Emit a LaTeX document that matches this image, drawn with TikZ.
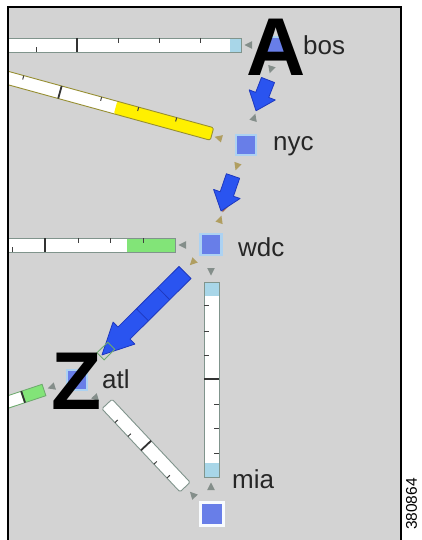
\documentclass[tikz,border=0pt]{standalone}
\usepackage{fontspec}
\setmainfont{Liberation Sans}
\usetikzlibrary{calc}
\definecolor{bg}{RGB}{211,211,211}
\definecolor{nodeblue}{RGB}{104,126,232}
\definecolor{glow}{RGB}{172,210,242}
\definecolor{barline}{RGB}{128,148,140}
\definecolor{lightblue}{RGB}{168,214,232}
\definecolor{ylw}{RGB}{255,240,0}
\definecolor{ylwline}{RGB}{150,142,50}
\definecolor{grn}{RGB}{130,228,120}
\definecolor{grnline}{RGB}{110,170,110}
\definecolor{arrblue}{RGB}{42,84,240}
\definecolor{arrline}{RGB}{30,56,190}
\definecolor{mkgray}{RGB}{132,142,138}
\definecolor{mkolive}{RGB}{176,158,96}
\definecolor{mkbrown}{RGB}{165,105,80}
\newcommand\blockarr[7]{%
  \begin{scope}[shift={(#1,#2)},rotate=#3]
    \filldraw[fill=arrblue,draw=arrline,line width=0.8pt,line join=round]
      (0,-#6) -- ({#4-#5},-#6) -- ({#4-#5},-#7) -- (#4,0) -- ({#4-#5},#7) -- ({#4-#5},#6) -- (0,#6) -- cycle;
  \end{scope}}
\newcommand\mk[4]{\fill[#4,shift={(#1,#2)},rotate=#3] (4.5,0) -- (-3,3.8) -- (-3,-3.8) -- cycle;}
\tikzset{
  sq/.style={draw=glow,line width=2.5pt,fill=nodeblue,minimum size=20pt,inner sep=0pt},
  lbl/.style={font=\fontsize{26}{26}\selectfont,inner sep=0pt,text=black!85},
  big/.style={font=\fontsize{82}{82}\selectfont\bfseries,inner sep=0pt,text=black},
  barborder/.style={draw=barline,line width=0.9pt},
  smalltick/.style={draw=black!75,line width=1pt},
  majortick/.style={draw=black!80,line width=1.8pt}
}
\begin{document}
\begin{tikzpicture}[x=1pt,y=-1pt]
\useasboundingbox (0,0) rectangle (421,540);
\fill[white] (0,0) rectangle (421,540);
\fill[bg] (8,7) rectangle (401,541);

\begin{scope}
\clip (9.2,8.2) rectangle (399.8,541);
% bos bar
\fill[white] (-5,38) rectangle (241,52);
\fill[lightblue] (230,38) rectangle (241,52);
\draw[barborder] (-5,38) rectangle (241,52);
\draw[smalltick] (36,52) -- (36,47);
\draw[majortick] (77,38) -- (77,52);
\foreach \t in {118,159,200} \draw[smalltick] (\t,38) -- (\t,43);
% nyc yellow bar
\begin{scope}[shift={(212,134)},rotate=164.65]
  \fill[white] (0,-6.5) rectangle (240,6.5);
  \fill[ylw,rounded corners=2pt] (0,-6.5) rectangle (100,6.5);
  \draw[ylwline,line width=0.9pt,rounded corners=2pt] (240,-6.5) -- (0,-6.5) -- (0,6.5) -- (240,6.5);
  \foreach \t in {38.4,77.8,116.2,197} \draw[smalltick] (\t,6.5) -- (\t,2.5);
  \draw[majortick] (157.7,-6.5) -- (157.7,6.5);
\end{scope}
% wdc bar
\fill[white] (-5,238) rectangle (175,252);
\fill[grn] (127,238) rectangle (175,252);
\draw[barborder] (-5,238) rectangle (175,252);
\draw[smalltick] (12,252) -- (12,247);
\draw[majortick] (45,238) -- (45,252);
\foreach \t in {78,110,143} \draw[smalltick] (\t,238) -- (\t,243);
% wdc-mia bar
\fill[white] (204,282) rectangle (219,477);
\fill[lightblue] (204,282) rectangle (219,296);
\fill[lightblue] (204,463) rectangle (219,477);
\draw[barborder] (204,282) rectangle (219,477);
\draw[majortick] (204,379) -- (219,379);
\foreach \t in {305,331,355} \draw[smalltick] (204,\t) -- (209,\t);
\foreach \t in {404,428,453} \draw[smalltick] (219,\t) -- (214,\t);
% atl-mia bar
\begin{scope}[shift={(107,404)},rotate=-46.8]
  \filldraw[fill=white,barborder,rounded corners=1.5pt] (0,-7) rectangle (114,7);
  \foreach \t in {19,38,76,95} \draw[smalltick] (\t,7) -- (\t,3);
  \draw[majortick] (57,-7) -- (57,7);
\end{scope}
% atl left bar
\begin{scope}[shift={(44,390)},rotate=198.4]
  \fill[white] (0,-6) rectangle (60,6);
  \fill[grn] (0,-6) rectangle (23,6);
  \draw[draw=grnline,line width=0.9pt] (60,-6) -- (0,-6) -- (0,6) -- (60,6);
  \draw[majortick] (22,-6) -- (22,6);
\end{scope}
\end{scope}

% frame border
\draw[black,line width=2.2pt] (8,541) -- (8,7) -- (401,7) -- (401,541);

% nodes
\node[sq] (bos) at (276,47) {};
\node[sq] (nyc) at (246,145) {};
\node[sq,minimum size=21pt] (wdc) at (211,244.5) {};
\node[sq] (atl) at (77,380) {};
\node[sq,draw=white!92!glow,line width=3pt,minimum size=23pt] (mia) at (211.5,513.5) {};

% markers
\mk{249}{45}{180}{mkgray}
\mk{271}{69}{-107}{mkgray}
\mk{254}{118}{73}{mkgray}
\mk{219}{138}{164.65}{mkolive}
\mk{237}{166}{-109}{mkolive}
\mk{220}{220}{71}{mkolive}
\mk{183}{245}{180}{mkgray}
\mk{193}{262}{-135}{mkolive}
\mk{211}{271}{-90}{mkgray}
\mk{52}{387}{198}{mkgray}
\mk{96}{398}{-46.8}{mkgray}
\mk{193}{495}{133.2}{mkgray}
\mk{211}{487}{90}{mkgray}

% blue flow arrows
\blockarr{268}{80}{-111.2}{33}{17}{7}{14}
\mk{224}{208}{-109}{mkbrown}
\blockarr{233}{176}{-108.9}{37}{18}{7}{14}
\blockarr{185}{272.5}{-135.2}{117}{31}{8.5}{15.5}
\begin{scope}[shift={(185,272.5)},rotate=-135.2]
  \draw[arrline,line width=0.8pt] (30,-8.5) -- (30,8.5);
  \draw[arrline,line width=0.8pt] (60,-8.5) -- (60,8.5);
  \draw[grnline,line width=0.9pt] (104,-5) rectangle (119,5);
\end{scope}

% big letters
\node[big] (Aletter) at (276.5,47.5) {A};
\node[big] (Zletter) at (76.5,381.5) {Z};

% labels
\node[lbl,anchor=base west] (bosl) at (303,55) {bos};
\node[lbl,anchor=base west] (nycl) at (273,151) {nyc};
\node[lbl,anchor=base west] (wdcl) at (238,256) {wdc};
\node[lbl,anchor=base west] (atll) at (102,388) {atl};
\node[lbl,anchor=base west] (mial) at (232,488) {mia};

\node[rotate=90,font=\fontsize{15.5}{15.5}\selectfont,inner sep=0pt] (figid) at (411.5,504) {380864};
\end{tikzpicture}
\end{document}
